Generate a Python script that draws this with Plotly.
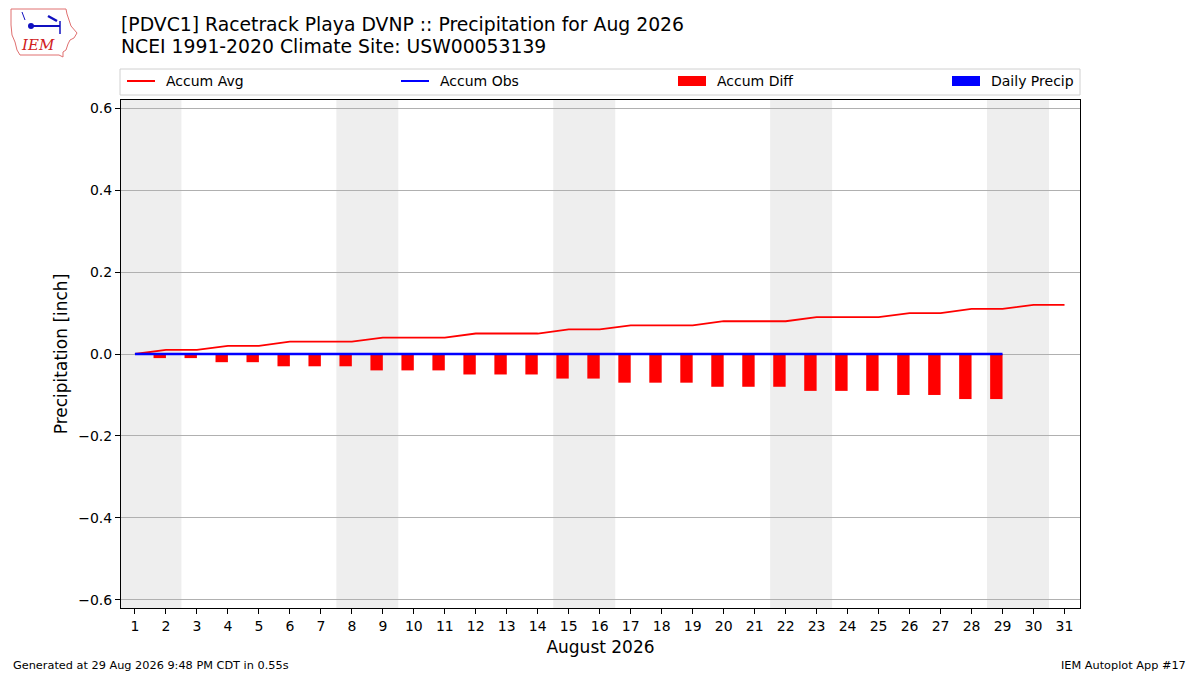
import datetime
import plotly.graph_objects as go

# ---------------- data ----------------
days = list(range(1, 32))
accum_avg = [0.00, 0.01, 0.01, 0.02, 0.02, 0.03, 0.03, 0.03, 0.04, 0.04,
             0.04, 0.05, 0.05, 0.05, 0.06, 0.06, 0.07, 0.07, 0.07, 0.08,
             0.08, 0.08, 0.09, 0.09, 0.09, 0.10, 0.10, 0.11, 0.11, 0.12, 0.12]
obs_days = list(range(1, 30))
accum_obs = [0.0] * 29
accum_diff = [0.00, -0.01, -0.01, -0.02, -0.02, -0.03, -0.03, -0.03, -0.04, -0.04,
              -0.04, -0.05, -0.05, -0.05, -0.06, -0.06, -0.07, -0.07, -0.07, -0.08,
              -0.08, -0.08, -0.09, -0.09, -0.09, -0.10, -0.10, -0.11, -0.11]
daily_precip = [0.0] * 29
y_ticks = [-0.6, -0.4, -0.2, 0.0, 0.2, 0.4, 0.6]
y_tick_text = ["\u22120.6", "\u22120.4", "\u22120.2", "0.0", "0.2", "0.4", "0.6"]
legend_names = ["Accum Avg", "Accum Obs", "Accum Diff", "Daily Precip"]
legend_colors = ["red", "blue", "red", "blue"]
legend_kinds = ["line", "line", "box", "box"]
title1 = "[PDVC1] Racetrack Playa DVNP :: Precipitation for Aug 2026"
title2 = "NCEI 1991-2020 Climate Site: USW00053139"
footer_left = "Generated at 29 Aug 2026 9:48 PM CDT in 0.55s"
footer_right = "IEM Autoplot App #17"

# ---------------- layout geometry ----------------
O = 8                      # page offset of the plot div (body margin)
W, H = 1200 - O, 675 - O
AX_L, AX_R, AX_T, AX_B = 121, 1080, 100, 608   # axes box in page pixels
L, R, T, B = AX_L - O, 1200 - AX_R, AX_T - O, 675 - AX_B
PW, PH = AX_R - AX_L, AX_B - AX_T
FONT = "DejaVu Sans, Verdana, sans-serif"


def px(x):
    return (x - AX_L) / PW


def py(y):
    return (AX_B - y) / PH


fig = go.Figure()

fig.add_trace(go.Scatter(x=days, y=accum_avg, mode="lines", name="Accum Avg",
                         line=dict(color="red", width=1.8)))
fig.add_trace(go.Scatter(x=obs_days, y=accum_obs, mode="lines", name="Accum Obs",
                         line=dict(color="blue", width=2.4)))
fig.add_trace(go.Bar(x=obs_days, y=accum_diff, name="Accum Diff", width=0.4,
                     offset=-0.4, marker=dict(color="red", line=dict(width=0))))
fig.add_trace(go.Bar(x=obs_days, y=daily_precip, name="Daily Precip", width=0.4,
                     offset=0.0, marker=dict(color="blue", line=dict(width=0))))

shapes = []
# weekend shading
for d in days:
    wd = datetime.date(2026, 8, d).weekday()
    if wd == 5:
        shapes.append(dict(type="rect", xref="x", yref="paper", x0=d - 0.5, x1=d + 1.5,
                           y0=0, y1=1, fillcolor="#eeeeee", line=dict(width=0),
                           layer="below"))

# logo outline (approximation of the IEM logo)
outline = [(11, 9), (66, 9), (67, 14), (69, 20), (71, 26), (77, 33), (74, 38), (70, 40),
           (68, 44), (66, 50), (63, 52), (63, 57), (59, 55), (20, 55), (17, 50),
           (15, 42), (12, 35), (11, 25)]
path = "M " + " L ".join(f"{px(a):.5f},{py(b):.5f}" for a, b in outline) + " Z"
shapes.append(dict(type="path", xref="paper", yref="paper", path=path,
                   line=dict(color="#e07070", width=1), fillcolor="white"))
logo_blue = "#1010c0"
shapes.append(dict(type="line", xref="paper", yref="paper", x0=px(31), y0=py(26),
                   x1=px(60), y1=py(26), line=dict(color=logo_blue, width=2)))
shapes.append(dict(type="line", xref="paper", yref="paper", x0=px(60), y0=py(21),
                   x1=px(60), y1=py(34), line=dict(color=logo_blue, width=1.5)))
shapes.append(dict(type="line", xref="paper", yref="paper", x0=px(48), y0=py(16),
                   x1=px(57), y1=py(21), line=dict(color=logo_blue, width=2.5)))
shapes.append(dict(type="line", xref="paper", yref="paper", x0=px(22), y0=py(12),
                   x1=px(25), y1=py(20), line=dict(color=logo_blue, width=1)))
shapes.append(dict(type="circle", xref="paper", yref="paper", x0=px(28), y0=py(23),
                   x1=px(34), y1=py(29), fillcolor=logo_blue, line=dict(width=0)))

annotations = [
    dict(text=title1, x=px(119), y=py(24), xref="paper", yref="paper",
         xanchor="left", yanchor="middle", showarrow=False,
         font=dict(family=FONT, size=18.8, color="black")),
    dict(text=title2, x=px(119), y=py(47), xref="paper", yref="paper",
         xanchor="left", yanchor="middle", showarrow=False,
         font=dict(family=FONT, size=18.8, color="black")),
    dict(text="IEM", x=px(38), y=py(45), xref="paper", yref="paper",
         xanchor="center", yanchor="middle", showarrow=False,
         font=dict(family="DejaVu Serif, serif", size=15, color="#d02020", style="italic")),
    dict(text=footer_left, x=px(11), y=py(665), xref="paper", yref="paper",
         xanchor="left", yanchor="middle", showarrow=False,
         font=dict(family=FONT, size=11.3, color="black")),
    dict(text=footer_right, x=px(1188), y=py(665), xref="paper", yref="paper",
         xanchor="right", yanchor="middle", showarrow=False,
         font=dict(family=FONT, size=11.3, color="black")),
]

# manual legend (expanded across the axes width, like the reference)
shapes.append(dict(type="rect", xref="paper", yref="paper", x0=px(120), x1=px(1080),
                   y0=py(95), y1=py(69), fillcolor="white",
                   line=dict(color="#d0d0d0", width=1)))
legend_x = [127, 401, 678, 952]
for name, col, kind, lx in zip(legend_names, legend_colors, legend_kinds, legend_x):
    if kind == "line":
        shapes.append(dict(type="line", xref="paper", yref="paper", x0=px(lx), x1=px(lx + 28),
                           y0=py(81), y1=py(81), line=dict(color=col, width=2)))
    else:
        shapes.append(dict(type="rect", xref="paper", yref="paper", x0=px(lx), x1=px(lx + 28),
                           y0=py(86), y1=py(76), fillcolor=col, line=dict(width=0)))
    annotations.append(dict(text=name, x=px(lx + 37), y=py(81), xref="paper", yref="paper",
                            xanchor="left", yanchor="middle", showarrow=False,
                            font=dict(family=FONT, size=14, color="black")))

fig.update_layout(
    width=W, height=H,
    margin=dict(l=L, r=R, t=T, b=B, pad=0),
    paper_bgcolor="white", plot_bgcolor="white",
    font=dict(family=FONT, size=14, color="black"),
    barmode="overlay",
    showlegend=False,
    shapes=shapes,
    annotations=annotations,
    xaxis=dict(range=[0.55, 31.5], tickmode="array", tickvals=days,
               ticktext=[str(d) for d in days], ticks="outside", ticklen=5,
               tickcolor="black", showline=True, linecolor="black", linewidth=1,
               mirror=True, showgrid=False, zeroline=False,
               title=dict(text="August 2026", font=dict(size=17), standoff=8),
               tickfont=dict(size=14)),
    yaxis=dict(range=[-0.62, 0.62], tickmode="array", tickvals=y_ticks,
               ticktext=y_tick_text, ticks="outside", ticklen=5, tickcolor="black",
               showline=True, linecolor="black", linewidth=1, mirror=True,
               showgrid=True, gridcolor="#b0b0b0", gridwidth=1, zeroline=False,
               title=dict(text="Precipitation [inch]", font=dict(size=17), standoff=6),
               tickfont=dict(size=14)),
)

fig.write_html("out.html")
